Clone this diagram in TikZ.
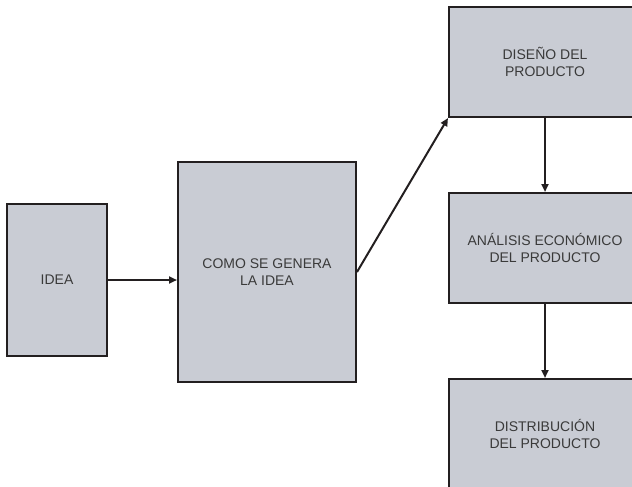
\documentclass[tikz,border=0pt]{standalone}
\usepackage{fontspec}
\setmainfont{Liberation Sans}
\usepackage{xcolor}
\definecolor{box-fill}{HTML}{C9CCD4}
\definecolor{box-border}{HTML}{231F20}
\definecolor{box-text}{HTML}{3A3A3A}
\usepackage{tikz}
\usetikzlibrary{
  arrows.meta,
  positioning,
  calc
}

\begin{document}
\begin{tikzpicture}[
    x=1pt, y=-1pt,
    stage/.style={
      rectangle,
      draw=box-border,
      fill=box-fill,
      line width=2pt,
      inner sep=0pt,
      font=\fontsize{14}{16.5}\selectfont,
      text=box-text,
      align=center
    },
    flow/.style={
      -{Triangle[length=8pt, width=7pt]},
      line width=2pt,
      color=box-border
    }
  ]
    \clip (0,0) rectangle (632,487);

    % ---- Left column: idea and how it is generated ----
    \node[stage, minimum width=100pt, minimum height=152pt] (idea)   at (57, 280)  {IDEA};
    \node[stage, minimum width=178pt, minimum height=220pt] (genera) at (267, 272) {COMO SE GENERA\\LA IDEA};

    % ---- Right column: product stages ----
    \node[stage, minimum width=192pt, minimum height=110pt] (diseno)   at (545, 62)  {DISEÑO DEL\\PRODUCTO};
    \node[stage, minimum width=192pt, minimum height=110pt] (analisis) at (545, 248) {ANÁLISIS ECONÓMICO\\DEL PRODUCTO};
    \node[stage, minimum width=192pt, minimum height=110pt] (distrib)  at (545, 434) {DISTRIBUCIÓN\\DEL PRODUCTO};

    % ---- Connectors ----
    \draw[flow] (idea.east) -- (idea.east -| genera.west);
    \draw[flow] (genera.east) -- (diseno.south west);
    \draw[flow] (diseno.south) -- (analisis.north);
    \draw[flow] (analisis.south) -- (distrib.north);
  \end{tikzpicture}
\end{document}
